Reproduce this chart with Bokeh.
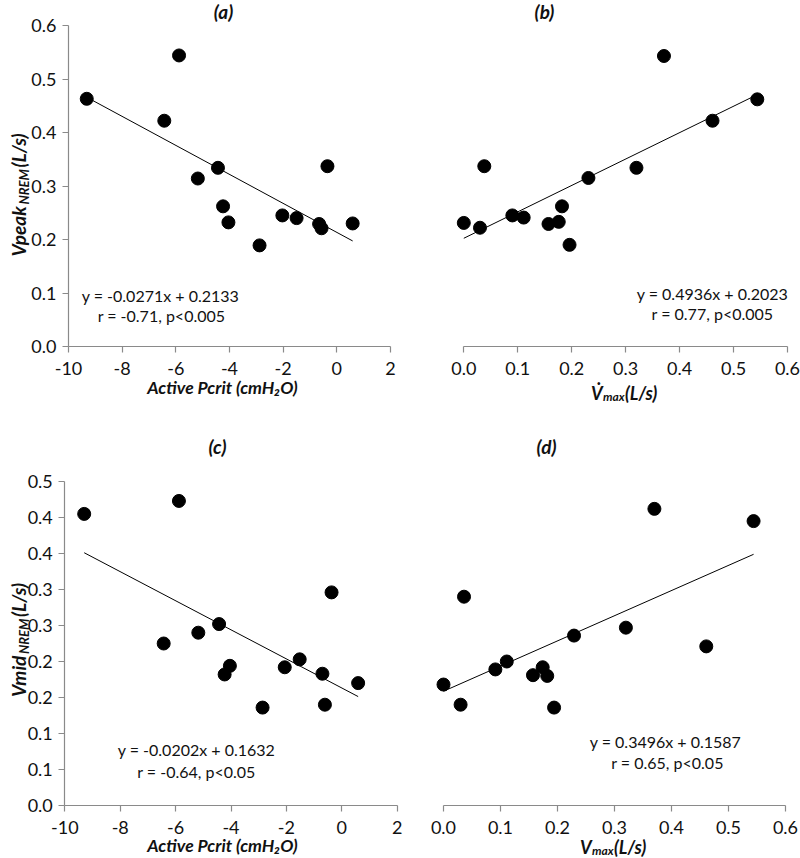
import math
from bokeh.plotting import figure
from bokeh.models import FixedTicker, Label, LinearAxis, Range1d
from bokeh.layouts import row, column
from bokeh.embed import file_html
from bokeh.resources import INLINE

# ---------------- data ----------------
# (a) Vpeak NREM vs active Pcrit
pcrit_a = [-9.32, -5.88, -6.43, -5.18, -4.43, -4.24, -4.04, -2.88, -2.03, -1.50, -0.66, -0.57, -0.35, 0.59]
vpeak_a = [0.463, 0.544, 0.422, 0.314, 0.334, 0.262, 0.232, 0.189, 0.245, 0.240, 0.229, 0.221, 0.337, 0.230]
# (b) Vpeak NREM vs Vmax
vmax_b = [0.544, 0.371, 0.461, 0.320, 0.231, 0.038, 0.182, 0.090, 0.111, 0.000, 0.030, 0.157, 0.176, 0.196]
vpeak_b = [0.462, 0.543, 0.422, 0.334, 0.315, 0.337, 0.262, 0.245, 0.241, 0.231, 0.222, 0.229, 0.233, 0.190]
# (c) Vmid NREM vs active Pcrit
pcrit_c = [-9.30, -5.88, -6.43, -5.18, -4.43, -4.23, -4.04, -2.86, -2.06, -1.52, -0.70, -0.61, -0.37, 0.59]
vmid_c = [0.405, 0.423, 0.225, 0.240, 0.252, 0.182, 0.194, 0.136, 0.192, 0.203, 0.183, 0.140, 0.296, 0.170]
# (d) Vmid NREM vs Vmax
vmax_d = [0.370, 0.544, 0.036, 0.320, 0.229, 0.461, 0.111, 0.091, 0.174, 0.157, 0.182, 0.000, 0.030, 0.194]
vmid_d = [0.412, 0.395, 0.290, 0.247, 0.236, 0.221, 0.200, 0.189, 0.192, 0.181, 0.180, 0.168, 0.140, 0.136]

# trend lines (slope, intercept) and annotation texts
fit_a = (-0.0271, 0.2133)
fit_b = (0.4936, 0.2023)
fit_c = (-0.0202, 0.1632)
fit_d = (0.3496, 0.1587)
eq_a = ["y = -0.0271x + 0.2133", "r = -0.71, p<0.005"]
eq_b = ["y = 0.4936x + 0.2023", "r = 0.77, p<0.005"]
eq_c = ["y = -0.0202x + 0.1632", "r = -0.64, p<0.05"]
eq_d = ["y = 0.3496x + 0.1587", "r = 0.65, p<0.05"]
titles = ["(a)", "(b)", "(c)", "(d)"]

# ticks
pcrit_ticks = [-10, -8, -6, -4, -2, 0, 2]
pcrit_labels = ["-10", "-8", "-6", "-4", "-2", "0", "2"]
vmax_ticks = [0.0, 0.1, 0.2, 0.3, 0.4, 0.5, 0.6]
vmax_labels = ["0.0", "0.1", "0.2", "0.3", "0.4", "0.5", "0.6"]
vpeak_ticks = [0.0, 0.1, 0.2, 0.3, 0.4, 0.5, 0.6]
vpeak_labels = ["0.0", "0.1", "0.2", "0.3", "0.4", "0.5", "0.6"]
vmid_ticks = [0.0, 0.05, 0.1, 0.15, 0.2, 0.25, 0.3, 0.35, 0.4, 0.45]
vmid_labels = ["0.0", "0.1", "0.1", "0.2", "0.2", "0.3", "0.3", "0.4", "0.4", "0.5"]

FONT = "Lato"
AXIS_COL = "#8a8a8a"
TXT_COL = "#111111"


class Panel:
    """One figure whose frame fills the whole canvas; cx0, cy0 = canvas origin on the page."""

    def __init__(self, cx0, cy0, w, h, xa, ya):
        self.cx0, self.cy0, self.w, self.h = cx0, cy0, w, h
        sx = (xa[3] - xa[1]) / (xa[2] - xa[0])
        sy = (ya[1] - ya[3]) / (ya[2] - ya[0])
        xr = Range1d(xa[0] - (xa[1] - cx0) / sx, xa[0] + (cx0 + w - xa[1]) / sx)
        yr = Range1d(ya[0] - (cy0 + h - ya[1]) / sy, ya[0] + (ya[1] - cy0) / sy)
        p = figure(width=w, height=h, x_range=xr, y_range=yr, output_backend="svg",
                   toolbar_location=None, title=None,
                   x_axis_location=None, y_axis_location=None,
                   min_border_left=0, min_border_right=0, min_border_top=0, min_border_bottom=0)
        p.grid.visible = False
        p.outline_line_color = None
        p.background_fill_color = "white"
        p.border_fill_color = "white"
        self.p = p

    def axis(self, side, at, bounds, ticks, labels, standoff):
        ax = LinearAxis(fixed_location=at, bounds=bounds)
        ax.ticker = FixedTicker(ticks=ticks)
        ax.major_label_overrides = {t: l for t, l in zip(ticks, labels)}
        ax.axis_line_color = AXIS_COL
        ax.axis_line_width = 1.2
        ax.major_tick_line_color = AXIS_COL
        ax.major_tick_line_width = 1.2
        ax.minor_tick_line_color = None
        ax.major_tick_in = 0
        ax.major_tick_out = 6
        ax.major_label_text_font = FONT
        ax.major_label_text_font_size = "18px"
        ax.major_label_text_color = TXT_COL
        ax.major_label_standoff = standoff
        self.p.add_layout(ax, side)

    def label(self, wx, wy, text, size, style="normal", align="center",
              baseline="middle", angle=0.0):
        self.p.add_layout(Label(x=wx - self.cx0, y=self.cy0 + self.h - wy,
                                x_units="screen", y_units="screen",
                                text=text, text_font=FONT, text_font_size=size,
                                text_font_style=style, text_color=TXT_COL,
                                text_align=align, text_baseline=baseline, angle=angle))

    def compose_h(self, cx, base_y, parts):
        # parts: (text, size_px, baseline_shift, advance)
        total = sum(pt[3] for pt in parts)
        x = cx - total / 2.0
        for text, size, shift, w in parts:
            self.label(x, base_y + shift, text, f"{size}px", "bold italic",
                       align="left", baseline="alphabetic")
            x += w

    def compose_v(self, base_x, cy, parts):
        total = sum(pt[3] for pt in parts)
        y = cy + total / 2.0
        for text, size, shift, w in parts:
            self.label(base_x + shift, y, text, f"{size}px", "bold italic",
                       align="left", baseline="alphabetic", angle=math.pi / 2)
            y -= w

    def points(self, xs, ys, fit):
        self.p.scatter(xs, ys, size=13, color="black")
        x0, x1 = min(xs), max(xs)
        self.p.line([x0, x1], [fit[0] * x0 + fit[1], fit[0] * x1 + fit[1]],
                     line_color="black", line_width=1)


YLAB_A = [("Vpeak", 19, 0, 52), ("NREM", 13, 5, 37), ("(L/s)", 19, 0, 39)]
YLAB_C = [("Vmid", 19, 0, 43), ("NREM", 13, 5, 37), (" (L/s)", 19, 0, 43)]

# ---------------- panel (a) ----------------
A = Panel(0, 0, 400, 420, (-10, 68, 2, 390), (0, 346, 0.6, 25))
A.points(pcrit_a, vpeak_a, fit_a)
A.axis("below", 0, (-10, 2), pcrit_ticks, pcrit_labels, 9)
A.axis("left", -10, (0, 0.6), vpeak_ticks, vpeak_labels, 6)
A.label(223, 11, titles[0], "19px", "bold italic")
A.label(160, 295, eq_a[0], "16px")
A.label(161, 315, eq_a[1], "16px")
A.label(222, 387, "Active Pcrit (cmH\u2082O)", "17.5px", "bold italic")
A.compose_v(18, 192, YLAB_A)

# ---------------- panel (b) ----------------
B = Panel(400, 0, 400, 420, (0.0, 463.3, 0.6, 787), (0, 346, 0.6, 25))
B.points(vmax_b, vpeak_b, fit_b)
B.axis("below", 0, (0, 0.6), vmax_ticks, vmax_labels, 9)
B.label(544, 11, titles[1], "19px", "bold italic")
B.label(712, 293, eq_b[0], "16px")
B.label(712, 313, eq_b[1], "16px")
B.compose_h(625, 392, [("V\u0307", 18, 0, 12), ("max", 12, 4, 22), ("(L/s)", 18, 0, 35)])

# ---------------- panel (c) ----------------
C = Panel(0, 420, 404, 438, (-10, 64.3, 2, 396.7), (0, 805, 0.45, 481))
C.points(pcrit_c, vmid_c, fit_c)
C.axis("below", 0, (-10, 2), pcrit_ticks, pcrit_labels, 9)
C.axis("left", -10, (0, 0.45), vmid_ticks, vmid_labels, 6)
C.label(217, 446, titles[2], "19px", "bold italic")
C.label(196, 749, eq_c[0], "16px")
C.label(196, 771, eq_c[1], "16px")
C.label(222, 845, "Active Pcrit (cmH\u2082O)", "17.5px", "bold italic")
C.compose_v(18, 635, YLAB_C)

# ---------------- panel (d) ----------------
D = Panel(404, 420, 396, 438, (0.0, 443, 0.6, 785), (0, 805, 0.45, 481))
D.points(vmax_d, vmid_d, fit_d)
D.axis("below", 0, (0, 0.6), vmax_ticks, vmax_labels, 9)
D.label(546, 446, titles[3], "19px", "bold italic")
D.label(665, 741, eq_d[0], "16px")
D.label(667, 762, eq_d[1], "16px")
D.compose_h(614, 846, [("V", 18, 0, 12), ("max", 12, 4, 22), ("(L/s)", 18, 0, 35)])

layout = column(row(A.p, B.p), row(C.p, D.p))
open("out.html", "w").write(file_html(layout, INLINE))
